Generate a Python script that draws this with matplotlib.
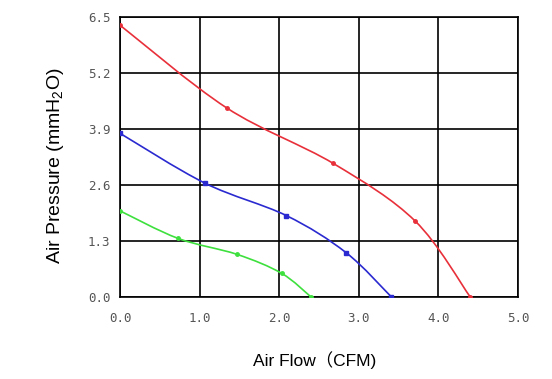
import numpy as np
import matplotlib
matplotlib.use("Agg")
import matplotlib.pyplot as plt
from matplotlib.path import Path
from matplotlib.patches import PathPatch

# Data
red_x = [0.0, 1.34, 2.68, 3.71, 4.40]
red_y = [6.31, 4.39, 3.10, 1.76, 0.0]
blue_x = [0.0, 1.07, 2.09, 2.84, 3.41]
blue_y = [3.80, 2.64, 1.89, 1.03, 0.0]
green_x = [0.0, 0.73, 1.47, 2.03, 2.40]
green_y = [2.00, 1.36, 0.99, 0.55, 0.0]

x_ticks = [0.0, 1.0, 2.0, 3.0, 4.0, 5.0]
y_ticks = [0.0, 1.3, 2.6, 3.9, 5.2, 6.5]

plt.rcParams['mathtext.default'] = 'regular'

fig = plt.figure(figsize=(5.52, 3.79), dpi=100)
ax = fig.add_axes([120/552, 1-297/379, (518-120)/552, (297-17)/379])


def smooth_path(xs, ys):
    # Catmull-Rom -> cubic Bezier path through the data points
    pts = np.column_stack([xs, ys])
    n = len(pts)
    verts = [pts[0]]
    codes = [Path.MOVETO]
    for i in range(n - 1):
        p0 = pts[i - 1] if i > 0 else pts[i]
        p1 = pts[i]
        p2 = pts[i + 1]
        p3 = pts[i + 2] if i + 2 < n else pts[i + 1]
        c1 = p1 + (p2 - p0) / 6.0
        c2 = p2 - (p3 - p1) / 6.0
        verts += [c1, c2, p2]
        codes += [Path.CURVE4] * 3
    return Path(verts, codes)


series = [
    (red_x, red_y, '#e8303a', 'o', 2.5),
    (blue_x, blue_y, '#2a2ad0', 's', 3.0),
    (green_x, green_y, '#3ee03e', 'o', 2.5),
]
for xs, ys, c, m, ms in series:
    patch = PathPatch(smooth_path(xs, ys), facecolor='none', edgecolor=c, lw=1.2, zorder=3)
    ax.add_patch(patch)
    ax.plot(xs, ys, linestyle='none', marker=m, ms=ms, color=c, zorder=4)

ax.set_xlim(0, 5.0)
ax.set_ylim(0, 6.5)
ax.set_xticks(x_ticks)
ax.set_yticks(y_ticks)
ax.set_xticklabels([f"{v:.1f}" for v in x_ticks])
ax.set_yticklabels([f"{v:.1f}" for v in y_ticks])
ax.grid(True, color='black', lw=1.2, zorder=1)
for s in ax.spines.values():
    s.set_color('black')
    s.set_linewidth(1.2)
ax.tick_params(length=0, labelsize=9, labelcolor='#555555')
ax.tick_params(axis='y', pad=7)
ax.tick_params(axis='x', pad=11)
for lab in ax.get_xticklabels() + ax.get_yticklabels():
    lab.set_family('DejaVu Sans Mono')

fig.text(315/552, 1-360/379, "Air Flow（CFM)", ha='center', va='center',
         fontsize=12.5, family=['Liberation Sans', 'Noto Sans CJK SC'])
fig.text(55/552, 1-166/379, "Air Pressure (mmH$_2$O)", ha='center', va='center',
         rotation=90, fontsize=14, family=['Liberation Sans'])

fig.savefig("out.png", dpi=100)
